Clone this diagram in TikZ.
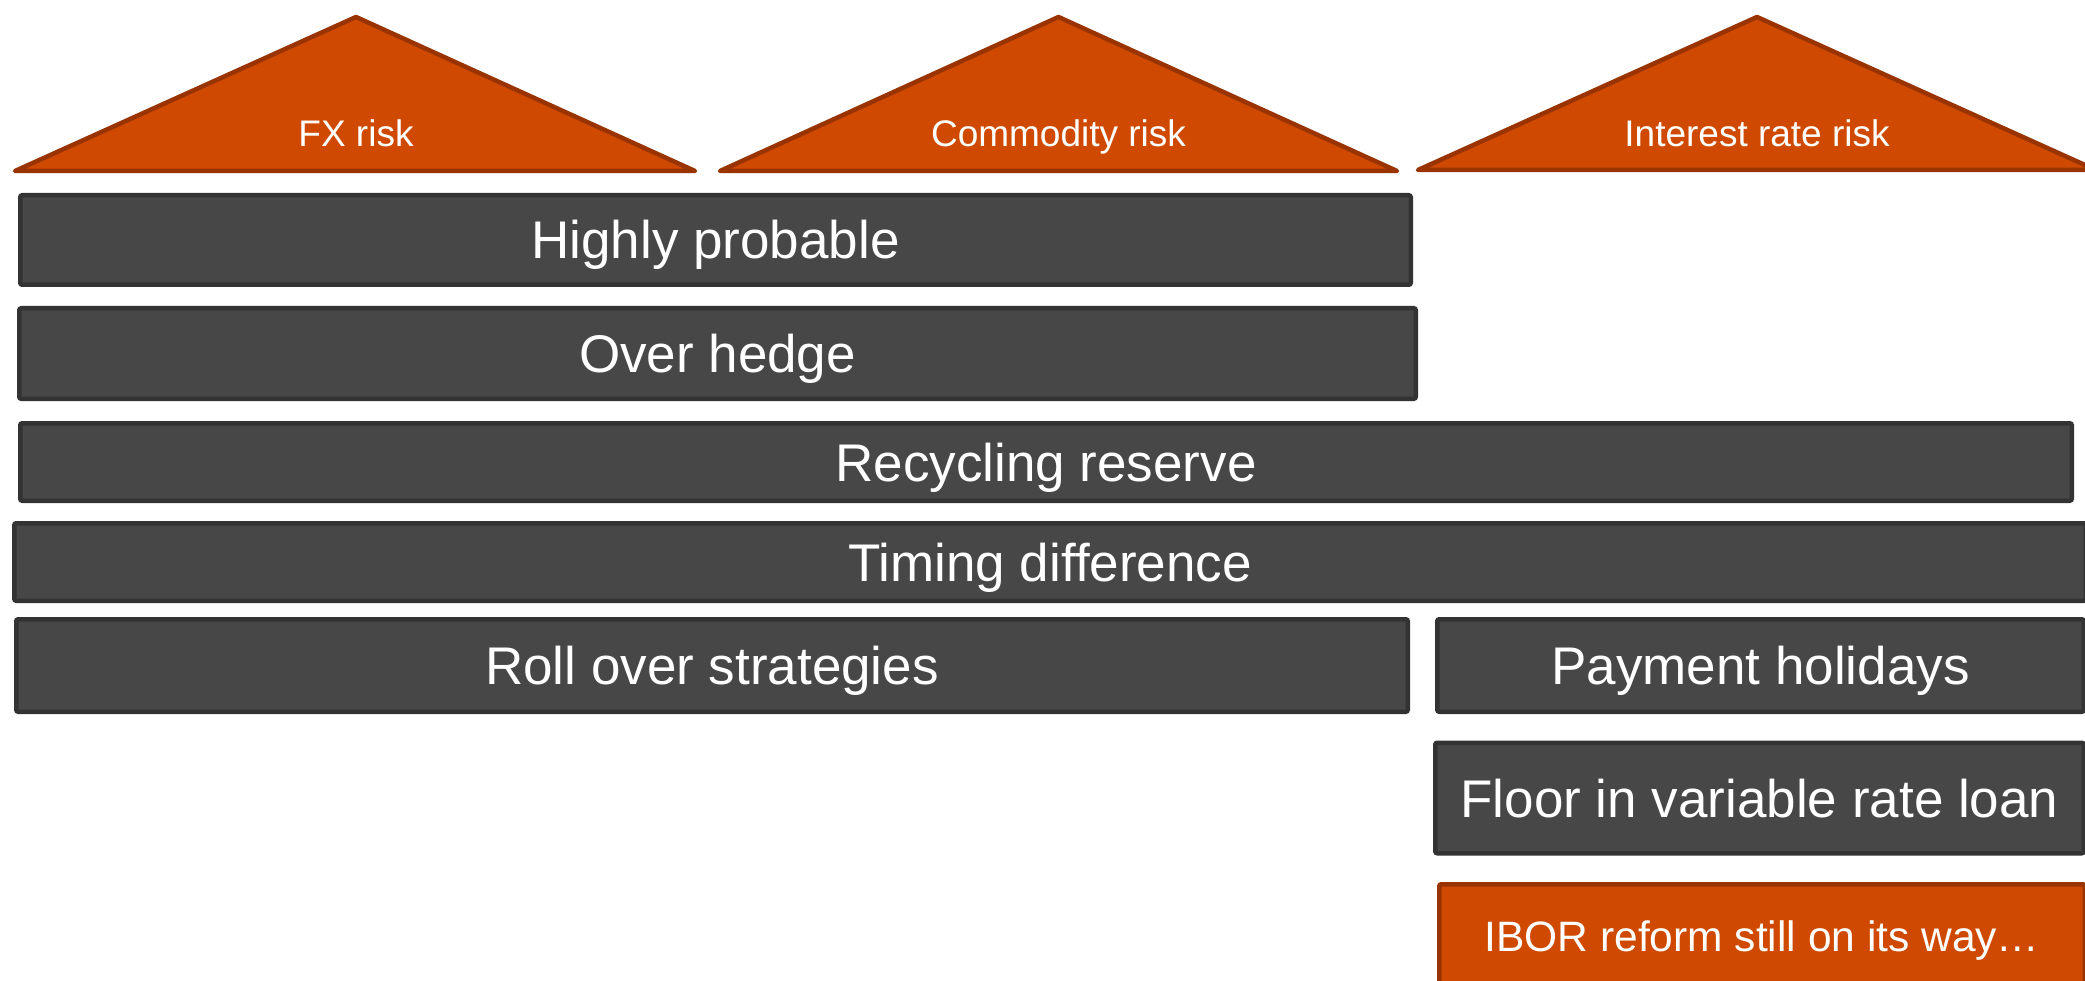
\documentclass[tikz,border=0pt]{standalone}
\usepackage{fontspec}
\setmainfont{Liberation Sans}
\definecolor{boxfill}{HTML}{474747}
\definecolor{boxline}{HTML}{333333}
\definecolor{orfill}{HTML}{CF4A00}
\definecolor{orline}{HTML}{993300}
\tikzset{
  gbox/.style={draw=boxline, fill=boxfill, line width=4.5pt, rounded corners=2pt,
    text=white, font=\fontsize{53}{60}\selectfont, inner sep=0pt,
    text height=38pt, text depth=0pt, align=center},
  obox/.style={gbox, draw=orline, fill=orfill, font=\fontsize{42.5}{50}\selectfont,
    text height=30.4pt},
  tri/.style={draw=orline, fill=orfill, line width=4.5pt, line join=round},
  trilabel/.style={text=white, font=\fontsize{37}{44}\selectfont, inner sep=0pt,
    text height=26.5pt, text depth=0pt}
}
\begin{document}
\begin{tikzpicture}[x=1pt, y=-1pt]
\useasboundingbox (0,0) rectangle (2085,981);
\fill[white] (0,0) rectangle (2085,981);
% triangles
\draw[tri] (15,171) -- (356,17) -- (695,171) -- cycle;
\draw[tri] (720,171) -- (1058.5,17) -- (1397,171) -- cycle;
\draw[tri] (1418,170) -- (1757,17) -- (2096,170) -- cycle;
\node[trilabel] (fx) at (356,133.5) {FX risk};
\node[trilabel] (com) at (1058.5,133.5) {Commodity risk};
\node[trilabel] (ir) at (1757,133.5) {Interest rate risk};
% boxes
\node[gbox, minimum width=1390.5pt, minimum height=89.5pt] (hp) at (715.5,240) {Highly probable};
\node[gbox, minimum width=1396.5pt, minimum height=90.5pt] (oh) at (717.5,353.5) {Over hedge};
\node[gbox, minimum width=2051.5pt, minimum height=77.5pt] (rr) at (1046,462) {Recycling reserve};
\node[gbox, minimum width=2071.5pt, minimum height=77.5pt] (td) at (1050,562) {Timing difference};
\node[gbox, minimum width=1391.5pt, minimum height=92.5pt] (ro) at (712,665.5) {Roll over strategies};
\node[gbox, minimum width=646.5pt, minimum height=92.5pt] (ph) at (1760.5,665.5) {Payment holidays};
\node[gbox, minimum width=648.5pt, minimum height=110.5pt] (fl) at (1759.5,798) {Floor in variable rate loan};
\node[obox, minimum width=645.5pt, minimum height=103.5pt] (ib) at (1762,936) {IBOR reform still on its way\dots};
\end{tikzpicture}
\end{document}
